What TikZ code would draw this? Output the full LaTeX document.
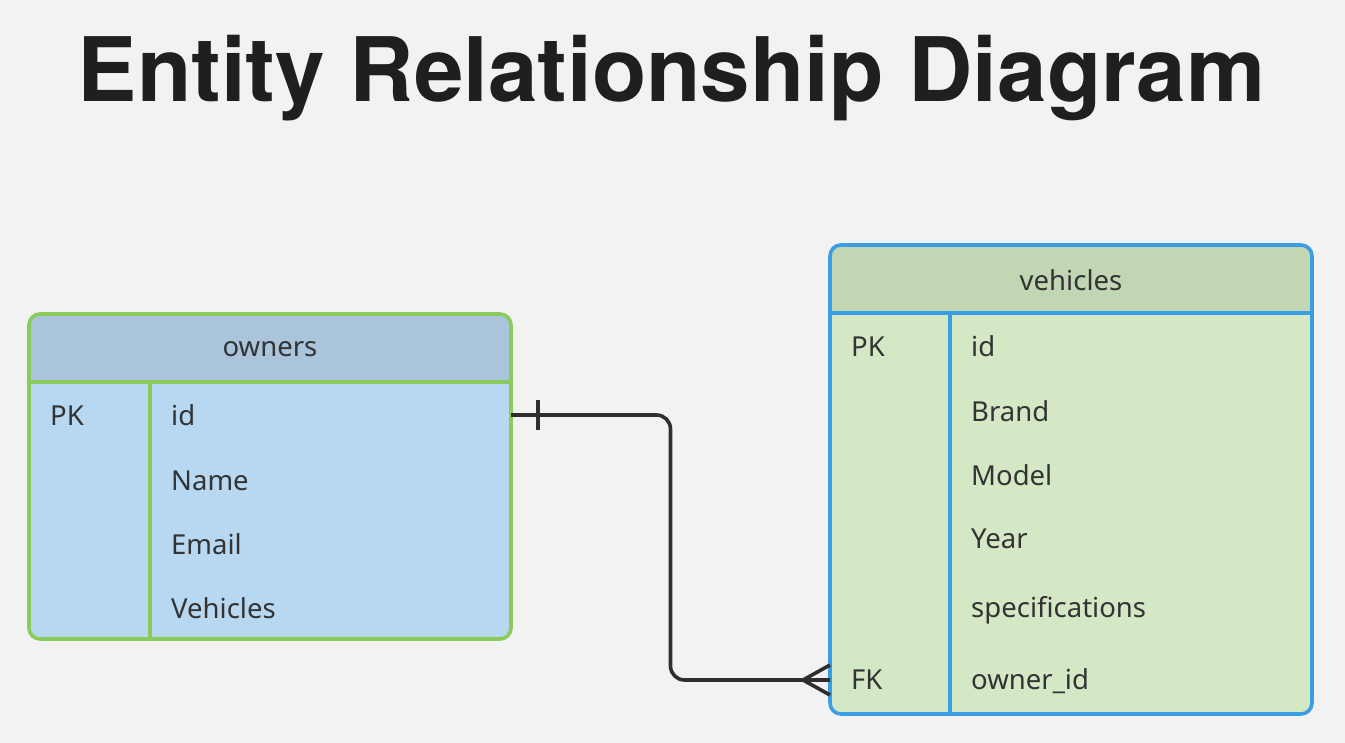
\documentclass[tikz,border=0pt]{standalone}
\usepackage{fontspec}
\setmainfont{Noto Sans}
\newfontfamily\titlefont{TeX Gyre Heros}
\usetikzlibrary{positioning,calc}
\definecolor{bgcol}{HTML}{F2F2F2}
\definecolor{inkcol}{HTML}{333333}
\definecolor{ownhead}{HTML}{A9C4DB}
\definecolor{ownbody}{HTML}{B7D8F0}
\definecolor{ownline}{HTML}{8ACB5B}
\definecolor{vehhead}{HTML}{C3D6B4}
\definecolor{vehbody}{HTML}{D5E8C5}
\definecolor{vehline}{HTML}{3A9EE4}
\tikzset{
	tablebox/.style={rounded corners=11pt,line width=3.6pt},
	cell/.style={font=\fontsize{27.5}{32}\selectfont,text=inkcol,anchor=base west,inner sep=0pt},
	head/.style={font=\fontsize{27.5}{32}\selectfont,text=inkcol,inner sep=0pt},
	link/.style={line width=3.6pt,draw=inkcol!90!black}
}
\begin{document}
\begin{tikzpicture}[x=1pt,y=-1pt]
		\fill[bgcol] (0,0) rectangle (1345,743);
		\useasboundingbox (0,0) rectangle (1345,743);
		\node[font=\titlefont\bfseries\fontsize{89}{100}\selectfont,text=black!88,inner sep=0pt,anchor=base] (title) at (671.5,102) {Entity Relationship Diagram};
		
		% owners table
		\begin{scope}
			\clip[rounded corners=11pt] (29,314) rectangle (511,639);
			\fill[ownbody] (29,314) rectangle (511,639);
			\fill[ownhead] (29,314) rectangle (511,382);
		\end{scope}
		\draw[tablebox,draw=ownline] (29,314) rectangle (511,639);
		\draw[line width=3.6pt,draw=ownline] (29,382)--(511,382);
		\draw[line width=3.6pt,draw=ownline] (150,382)--(150,639);
		\node[head] (owners) at (270,349) {owners};
		\node[cell] (o-pk) at (50,425) {PK};
		\node[cell] (o-id) at (171,425) {id};
		\node[cell] (o-name) at (171,490) {Name};
		\node[cell] (o-email) at (171,554) {Email};
		\node[cell] (o-veh) at (171,618) {Vehicles};
		
		% vehicles table
		\begin{scope}
			\clip[rounded corners=11pt] (830,245) rectangle (1312,714);
			\fill[vehbody] (830,245) rectangle (1312,714);
			\fill[vehhead] (830,245) rectangle (1312,313);
		\end{scope}
		\draw[tablebox,draw=vehline] (830,245) rectangle (1312,714);
		\draw[line width=3.6pt,draw=vehline] (830,313)--(1312,313);
		\draw[line width=3.6pt,draw=vehline] (950,313)--(950,714);
		\node[head] (vehicles) at (1071,280) {vehicles};
		\node[cell] (v-pk) at (851,357) {PK};
		\node[cell] (v-id) at (971,357) {id};
		\node[cell] (v-brand) at (971,421) {Brand};
		\node[cell] (v-model) at (971,485) {Model};
		\node[cell] (v-year) at (971,548) {Year};
		\node[cell] (v-spec) at (971,617) {specifications};
		\node[cell] (v-fk) at (851,689) {FK};
		\node[cell] (v-owner) at (971,689) {owner\_id};
		
		% relation one to many
		\coordinate (one) at (511,415);
		\coordinate (many) at (830,680);
		\draw[link,rounded corners=14pt] (one) -| ($(one)!.5!(many)$) |- (many);
		\draw[link] ($(one)+(27,-15)$)--($(one)+(27,15)$);
		\draw[link] ($(many)+(-27,0)$)--($(many)+(0,-15)$);
		\draw[link] ($(many)+(-27,0)$)--($(many)+(0,15)$);
	\end{tikzpicture}
\end{document}
